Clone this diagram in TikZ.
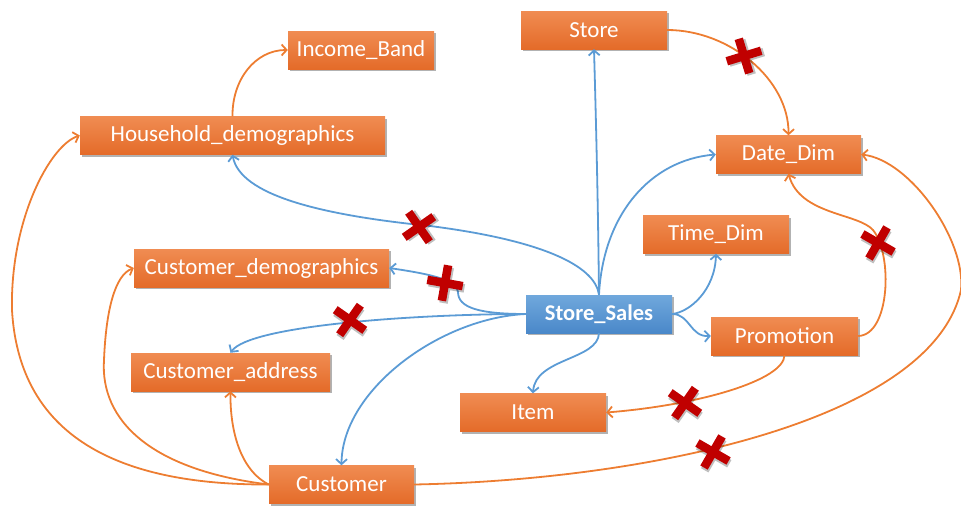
\documentclass[tikz,border=0pt]{standalone}
\usepackage{fontspec}
\setmainfont{Carlito}
\usetikzlibrary{arrows.meta,shadows}
\definecolor{oTop}{HTML}{F08C52}
\definecolor{oBot}{HTML}{E46B29}
\definecolor{bTop}{HTML}{70A8DC}
\definecolor{bBot}{HTML}{4A88C9}
\definecolor{bLine}{HTML}{5B9BD5}
\definecolor{oLine}{HTML}{ED7D31}
\definecolor{xred}{HTML}{C00000}
\tikzset{
  box/.style={rectangle, inner sep=0pt, minimum height=38pt, text=white,
    font=\fontsize{23}{27}\selectfont,
    drop shadow={shadow xshift=1.5pt, shadow yshift=-2pt, opacity=0.3, fill=black}},
  obox/.style={box, top color=oTop, bottom color=oBot},
  bbox/.style={box, top color=bTop, bottom color=bBot, font=\fontsize{22.5}{27}\selectfont\bfseries},
  blink/.style={draw=bLine, line width=1.8pt, -{Straight Barb[length=5pt,width=11pt]}},
  olink/.style={draw=oLine, line width=1.8pt, -{Straight Barb[length=5pt,width=11pt]}},
  xm/.pic={
    \draw[line width=8.5pt, black, opacity=0.25, shift={(2,2)}] (-18,0)--(18,0) (0,-18)--(0,18);
    \draw[line width=8.5pt, xred] (-18,0)--(18,0) (0,-18)--(0,18);
  }
}
\begin{document}
\begin{tikzpicture}[x=1pt,y=-1pt]
\useasboundingbox (0,0) rectangle (961,506);
% nodes
\node[obox, minimum width=146pt] (ib) at (361,50) {Income\_Band};
\node[obox, minimum width=305pt] (hd) at (232.5,135.5) {Household\_demographics};
\node[obox, minimum width=146pt] (st) at (594,30) {Store};
\node[obox, minimum width=145pt] (dd) at (788.5,154.5) {Date\_Dim};
\node[obox, minimum width=146pt] (td) at (716,234.5) {Time\_Dim};
\node[obox, minimum width=255pt] (cd) at (261.5,268) {Customer\_demographics};
\node[bbox, minimum width=146pt] (ss) at (599,314) {Store\_Sales};
\node[obox, minimum width=147pt] (pr) at (784.5,336) {Promotion};
\node[obox, minimum width=199pt] (ca) at (230.5,372) {Customer\_address};
\node[obox, minimum width=146pt] (it) at (533,412.5) {Item};
\node[obox, minimum width=145pt] (cu) at (341.5,484.5) {Customer};
% blue connectors
\draw[blink] (ss.north) .. controls (598,200) and (596,120) .. (st.south);
\draw[blink] (ss.north) .. controls (603,215) and (650,160) .. (dd.west);
\draw[blink] (ss.north) .. controls (595,265) and (540,240) .. (430,226)
   .. controls (320,215) and (240,195) .. (hd.south);
\draw[blink] (ss.west) .. controls (480,314) and (458,308) .. (458,292)
   .. controls (458,280) and (430,274) .. (cd.east);
\draw[blink] (ss.west) .. controls (420,314) and (250,325) .. (ca.north);
\draw[blink] (ss.west) .. controls (440,318) and (342,390) .. (cu.north);
\draw[blink] (ss.east) .. controls (690,312) and (715,290) .. (td.south);
\draw[blink] (ss.east) .. controls (690,314) and (690,337) .. (pr.west);
\draw[blink] (ss.south) .. controls (598,360) and (535,358) .. (it.north);
% orange connectors
\draw[olink] (hd.north) .. controls (232,80) and (255,50) .. (ib.west);
\draw[olink] (st.east) .. controls (730,30) and (789,80) .. (dd.north);
\draw[olink] (pr.east) .. controls (890,335) and (893,255) .. (873,230)
   .. controls (858,213) and (800,215) .. (dd.south);
\draw[olink] (pr.south) .. controls (784,380) and (700,405) .. (it.east);
\draw[olink] (cu.east) .. controls (650,480) and (932,420) .. (961,290)
   .. controls (966,240) and (910,160) .. (dd.east);
\draw[olink] (cu.west) .. controls (140,485) and (20,450) .. (12,310)
   .. controls (10,220) and (50,145) .. (hd.west);
\draw[olink] (cu.west) .. controls (150,470) and (100,420) .. (104,360)
   .. controls (106,310) and (115,275) .. (cd.west);
\draw[olink] (cu.west) .. controls (240,470) and (230,430) .. (ca.south);
% crosses
\pic[rotate=17] at (744,56) {xm};
\pic[rotate=35] at (419,227) {xm};
\pic[rotate=-10] at (445,283) {xm};
\pic[rotate=-35] at (350,320) {xm};
\pic[rotate=-30] at (878,243) {xm};
\pic[rotate=-35] at (685,403) {xm};
\pic[rotate=-30] at (713,452) {xm};
\end{tikzpicture}
\end{document}
